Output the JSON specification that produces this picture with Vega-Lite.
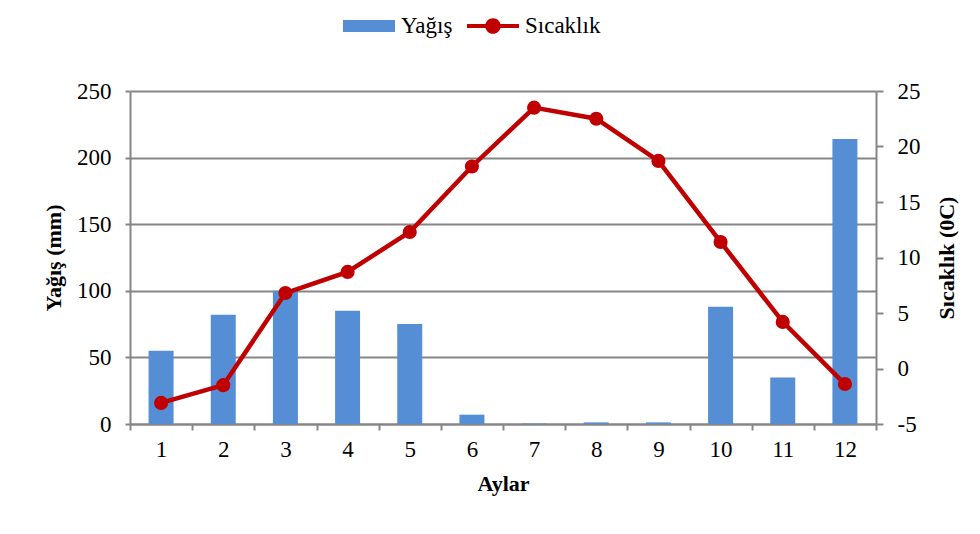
{
  "$schema": "https://vega.github.io/schema/vega-lite/v6.json",
  "width": 746,
  "height": 333,
  "autosize": "none",
  "padding": {"left": 130, "top": 91, "right": 104, "bottom": 110},
  "background": "white",
  "config": {
    "font": "Liberation Serif",
    "view": {"stroke": null},
    "legend": {"labelFont": "Liberation Serif", "labelFontSize": 23, "labelColor": "#000000"},
    "axis": {
      "labelFont": "Liberation Serif",
      "labelFontSize": 23,
      "labelColor": "#000000",
      "titleFont": "Liberation Serif",
      "titleFontSize": 22,
      "titleFontWeight": "bold",
      "titleColor": "#000000",
      "domainColor": "#868686",
      "domainWidth": 2,
      "tickColor": "#868686",
      "tickWidth": 2,
      "gridColor": "#868686",
      "gridWidth": 2
    }
  },
  "data": {
    "values": [
      {"Ay": 1, "Yagis": 55, "Sicaklik": -3.1},
      {"Ay": 2, "Yagis": 82, "Sicaklik": -1.5},
      {"Ay": 3, "Yagis": 100, "Sicaklik": 6.8},
      {"Ay": 4, "Yagis": 85, "Sicaklik": 8.7},
      {"Ay": 5, "Yagis": 75, "Sicaklik": 12.3},
      {"Ay": 6, "Yagis": 7, "Sicaklik": 18.2},
      {"Ay": 7, "Yagis": 0.3, "Sicaklik": 23.5},
      {"Ay": 8, "Yagis": 1.2, "Sicaklik": 22.5},
      {"Ay": 9, "Yagis": 1.2, "Sicaklik": 18.7},
      {"Ay": 10, "Yagis": 88, "Sicaklik": 11.4},
      {"Ay": 11, "Yagis": 35, "Sicaklik": 4.2},
      {"Ay": 12, "Yagis": 214, "Sicaklik": -1.4}
    ]
  },
  "layer": [
    {
      "mark": {"type": "bar", "size": 25},
      "encoding": {
        "x": {
          "field": "Ay",
          "type": "ordinal",
          "scale": {"paddingInner": 0, "paddingOuter": 0},
          "axis": {
            "title": "Aylar",
            "labelAngle": 0,
            "tickBand": "extent",
            "tickSize": 6,
            "labelPadding": 8,
            "titlePadding": 12
          }
        },
        "y": {
          "field": "Yagis",
          "type": "quantitative",
          "scale": {"domain": [0, 250]},
          "axis": {
            "title": "Yağış (mm)",
            "orient": "left",
            "values": [0, 50, 100, 150, 200, 250],
            "tickSize": 5,
            "labelPadding": 14,
            "titlePadding": 11,
            "grid": true
          }
        },
        "color": {
          "datum": "Yağış",
          "scale": {"domain": ["Yağış", "Sıcaklık"], "range": ["#558ED5", "#C00000"]},
          "legend": {
            "title": null,
            "orient": "none",
            "direction": "horizontal",
            "legendX": 213,
            "legendY": -91,
            "symbolSize": 2704,
            "labelFontSize": 23,
            "labelFont": "Liberation Serif",
            "labelColor": "#000000",
            "labelOffset": 6,
            "columnPadding": 14,
            "encode": {
              "symbols": {
                "update": {
                  "shape": {"signal": "datum.value === 'Yağış' ? 'M-1,-0.235H1V0.235H-1Z' : 'M-1,-0.075H1V0.075H-1Z M0.3,0A0.3,0.3,0,1,1,-0.3,0A0.3,0.3,0,1,1,0.3,0Z'"},
                  "fill": {"signal": "datum.value === 'Yağış' ? '#558ED5' : '#C00000'"},
                  "fillOpacity": {"value": 1},
                  "strokeWidth": {"value": 0}
                }
              },
              "labels": {
                "update": {
                  "font": {"value": "Liberation Serif"}
                }
              }
            }
          }
        }
      }
    },
    {
      "mark": {"type": "line", "strokeWidth": 4.5, "point": {"filled": true, "size": 200, "opacity": 1}},
      "encoding": {
        "x": {"field": "Ay", "type": "ordinal"},
        "y": {
          "field": "Sicaklik",
          "type": "quantitative",
          "scale": {"domain": [-5, 25]},
          "axis": {
            "title": "Sıcaklık (0C)",
            "orient": "right",
            "values": [-5, 0, 5, 10, 15, 20, 25],
            "labelExpr": "'' + datum.value",
            "tickSize": 7,
            "labelPadding": 14,
            "titlePadding": 16,
            "titleAngle": 270,
            "titleBaseline": "top",
            "grid": false
          }
        },
        "color": {"datum": "Sıcaklık"}
      }
    }
  ],
  "resolve": {"scale": {"y": "independent"}}
}
